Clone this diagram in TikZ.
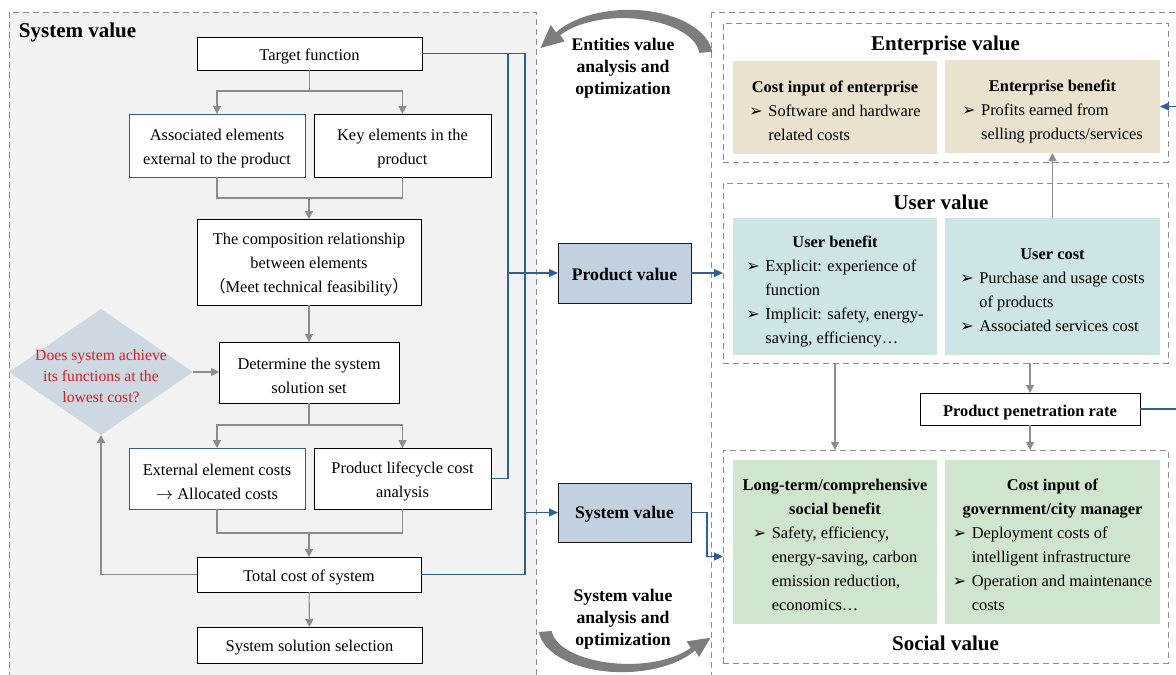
\documentclass[tikz,border=0pt]{standalone}
\usepackage{fontspec}
\setmainfont{Liberation Serif}
\newfontfamily\symfont{DejaVu Sans}
\newfontfamily\cjkfont{Noto Sans CJK SC}
\usetikzlibrary{arrows.meta,shapes.geometric}

\definecolor{panelgray}{RGB}{242,242,242}
\definecolor{dashgray}{RGB}{140,140,140}
\definecolor{linegray}{RGB}{140,140,140}
\definecolor{lineblue}{RGB}{46,95,155}
\definecolor{valfill}{RGB}{194,209,224}
\definecolor{diamfill}{RGB}{205,216,226}
\definecolor{beige}{RGB}{234,225,206}
\definecolor{teal}{RGB}{205,230,229}
\definecolor{softgreen}{RGB}{208,229,206}
\definecolor{qred}{RGB}{212,32,32}
\definecolor{curvegray}{RGB}{125,125,125}

\newcommand\bodyfont{\fontsize{16.4}{24}\selectfont}
\newcommand\titlefont{\fontsize{21}{25}\selectfont\bfseries}
\newcommand\midfont{\fontsize{17.7}{22}\selectfont\bfseries}
\newcommand\redfont{\fontsize{15.7}{21}\selectfont}
\newcommand\arrbul{\makebox[19pt][l]{\symfont\fontsize{16}{16}\selectfont ➢}}
% extra head room on the first line of a box, pushes the text block down a little
\newcommand\tstrut{\rule{0pt}{17.5pt}}
\newcommand\hstrut{\rule{0pt}{25pt}}

\begin{document}
\begin{tikzpicture}[x=1pt,y=-1pt,
  every node/.style={inner sep=0pt, outer sep=0pt},
  wbox/.style={draw=black, fill=white, line width=0.9pt, align=center, font=\bodyfont},
  bbox/.style={wbox, draw=lineblue},
  vbox/.style={draw=black!90, fill=valfill, line width=1pt, align=center, font=\midfont},
  fbox/.style={align=center, font=\bodyfont},
  dbox/.style={draw=dashgray, dash pattern=on 6pt off 4pt, line width=0.9pt},
  gline/.style={draw=linegray, line width=1.1pt},
  garrow/.style={gline, -{Triangle[width=8pt,length=8pt]}},
  bline/.style={draw=lineblue, line width=1.1pt},
  barrow/.style={bline, -{Triangle[width=8pt,length=9pt]}},
  ttl/.style={font=\titlefont},
]
\useasboundingbox (0,0) rectangle (1176,675);

% ---------- left panel: system value ----------
\draw[dbox, fill=panelgray] (9,12) rectangle (536,690);
\node[ttl, anchor=west] (systitle) at (19,32) {System value};

\node[wbox, minimum width=225pt, minimum height=33pt] (target) at (309.5,53.5) {\tstrut Target function};
\node[bbox, minimum width=176pt, minimum height=63pt] (assoc) at (217,145.5) {\tstrut Associated elements\\external to the product};
\node[wbox, minimum width=177pt, minimum height=63pt] (key) at (402.5,145.5) {\tstrut Key elements in the\\product};
\node[wbox, minimum width=224pt, minimum height=86pt] (comp) at (309,262) {\tstrut The composition relationship\\between elements\\{\cjkfont （}Meet technical feasibility{\cjkfont ）}};
\node[wbox, minimum width=180pt, minimum height=61pt] (det) at (309,372.5) {\tstrut Determine the system\\solution set};
\node[bbox, minimum width=176pt, minimum height=61pt] (ext) at (217,478.5) {\tstrut External element costs\\$\rightarrow$ Allocated costs};
\node[wbox, minimum width=177pt, minimum height=61pt] (life) at (402.5,478.5) {\tstrut Product lifecycle cost\\analysis};
\node[wbox, minimum width=224pt, minimum height=35pt] (total) at (309,574.5) {\tstrut Total cost of system};
\node[wbox, minimum width=225pt, minimum height=36pt] (select) at (309.5,645) {\tstrut System solution selection};

\node[diamond, fill=diamfill, minimum width=184pt, minimum height=126pt] (dia) at (101,372) {};
\node[align=center, font=\redfont, text=qred] (diatext) at (101,376) {Does system achieve\\its functions at the\\lowest cost?};

% flow inside the panel
\coordinate (s1) at (309.5,91);
\coordinate (m1) at (309,198);
\coordinate (s2) at (309,425);
\coordinate (m2) at (309,533);
\draw[gline] (target) -- (s1);
\draw[garrow] (s1) -| (assoc);
\draw[garrow] (s1) -| (key);
\draw[gline] (assoc) |- (m1);
\draw[gline] (key) |- (m1);
\draw[garrow] (m1) -- (comp);
\draw[garrow] (comp) -- (det);
\draw[garrow] (dia.east) -- (det.west |- dia.east);
\draw[gline] (det) -- (s2);
\draw[garrow] (s2) -| (ext);
\draw[garrow] (s2) -| (life);
\draw[gline] (ext) |- (m2);
\draw[gline] (life) |- (m2);
\draw[garrow] (m2) -- (total);
\draw[garrow] (total) -- (select);
\draw[garrow] (total.west) -| (dia.south);

% ---------- middle column ----------
\node[vbox, minimum width=133pt, minimum height=60pt] (prodval) at (624.5,273) {\rule{0pt}{16pt}Product value};
\node[vbox, minimum width=133pt, minimum height=59pt] (sysval) at (624.5,512.5) {\rule{0pt}{16pt}System value};
\node[align=center, font=\midfont] (enttxt) at (623,68) {Entities value\\analysis and\\optimization};
\node[align=center, font=\midfont] (systxt) at (623,619) {System value\\analysis and\\optimization};

% blue collectors from the panel
\coordinate (jaT) at (508,53.5);
\coordinate (jaB) at (508,478.5);
\coordinate (ja1) at (508,273);
\coordinate (jbT) at (525,53.5);
\coordinate (jbB) at (525,574.5);
\coordinate (jb1) at (525,512.5);
\draw[bline] (target.east) -- (jbT) -- (jbB) -- (total.east);
\draw[bline] (jaT) -- (jaB) -- (life.east);
\draw[barrow] (ja1) -- (prodval.west);
\draw[barrow] (jb1) -- (sysval.west);

% curved arrows
\fill[curvegray]
  plot[domain=5:148, samples=50, variable=\t]
    ({626+(80+(6.5-4*(\t-5)/143))*cos(\t)}, {56-(42+(6.5-4*(\t-5)/143))*sin(\t)})
  -- (550.7,25.0) -- (540.5,48.0) -- (564.6,41.4)
  -- plot[domain=148:5, samples=50, variable=\t]
    ({626+(80-(6.5-4*(\t-5)/143))*cos(\t)}, {56-(42-(6.5-4*(\t-5)/143))*sin(\t)})
  -- cycle;
\fill[curvegray]
  plot[domain=5:148, samples=50, variable=\t]
    ({625-(80+(6.5-4*(\t-5)/143))*cos(\t)}, {628+(40+(6.5-4*(\t-5)/143))*sin(\t)})
  -- (699.1,657.0) -- (710.4,637.7) -- (686.6,641.4)
  -- plot[domain=148:5, samples=50, variable=\t]
    ({625-(80-(6.5-4*(\t-5)/143))*cos(\t)}, {628+(40-(6.5-4*(\t-5)/143))*sin(\t)})
  -- cycle;

% ---------- right panel: stakeholders ----------
\draw[dbox] (711,12) rectangle (1190,690);
\node[dbox, minimum width=445pt, minimum height=139pt] (entbox) at (945.5,92.5) {};
\node[dbox, minimum width=445pt, minimum height=180pt] (userbox) at (945.5,273) {};
\node[dbox, minimum width=445pt, minimum height=213pt] (socbox) at (945.5,556.5) {};

\node[ttl] (enttitle) at (945.5,45) {Enterprise value};
\node[ttl] (usertitle) at (941,202) {User value};
\node[ttl] (soctitle) at (945.5,643) {Social value};

\node[fbox, fill=beige, minimum width=204pt, minimum height=93pt] (costent) at (835,107.5)
  {\hstrut\textbf{Cost input of enterprise}\\
   \begin{tabular}[t]{@{}l@{}l@{}}\arrbul&Software and hardware\\&related costs\end{tabular}};
\node[fbox, fill=beige, minimum width=215pt, minimum height=93pt] (ebenefit) at (1052.5,106.5)
  {\hstrut\textbf{Enterprise benefit}\\
   \begin{tabular}[t]{@{}l@{}l@{}}\arrbul&Profits earned from\\&selling products/services\end{tabular}};
\node[fbox, fill=teal, minimum width=204pt, minimum height=137pt] (ubenefit) at (835,286.5)
  {\hstrut\textbf{User benefit}\\
   \begin{tabular}[t]{@{}l@{}l@{}}\arrbul&Explicit: experience of\\&function\\
   \arrbul&Implicit: safety, energy-\\&saving, efficiency…\end{tabular}};
\node[fbox, fill=teal, minimum width=215pt, minimum height=137pt] (ucost) at (1052.5,286.5)
  {\hstrut\textbf{User cost}\\
   \begin{tabular}[t]{@{}l@{}l@{}}\arrbul&Purchase and usage costs\\&of products\\
   \arrbul&Associated services cost\end{tabular}};
\node[fbox, fill=softgreen, minimum width=204pt, minimum height=164pt] (sbenefit) at (835,542)
  {\hstrut\textbf{Long-term/comprehensive}\\\textbf{social benefit}\\
   \begin{tabular}[t]{@{}l@{}l@{}}\arrbul&Safety, efficiency,\\&energy-saving, carbon\\
   &emission reduction,\\&economics…\end{tabular}};
\node[fbox, fill=softgreen, minimum width=215pt, minimum height=164pt] (gcost) at (1052.5,542)
  {\hstrut\textbf{Cost input of}\\\textbf{government/city manager}\\
   \begin{tabular}[t]{@{}l@{}l@{}}\arrbul&Deployment costs of\\&intelligent infrastructure\\
   \arrbul&Operation and maintenance\\&costs\end{tabular}};

\node[wbox, font=\bodyfont\bfseries, minimum width=220pt, minimum height=32pt] (rate) at (1030,409) {\rule{0pt}{19pt}Product penetration rate};

% connectors on the right
\draw[barrow] (prodval.east) -- (prodval.east -| userbox.west);
\draw[barrow] (sysval.east) -- ++(16,0) |- (socbox.west);
\draw[garrow] (ucost.north) -- (ebenefit.south);
\draw[garrow] (rate.north |- userbox.south) -- (rate.north);
\draw[garrow] (rate.south) -- (rate.south |- socbox.north);
\draw[garrow] (ubenefit.south |- userbox.south) -- (ubenefit.south |- socbox.north);
\draw[barrow] (rate.east) -- ++(50,0) |- (ebenefit.east);
\end{tikzpicture}
\end{document}
